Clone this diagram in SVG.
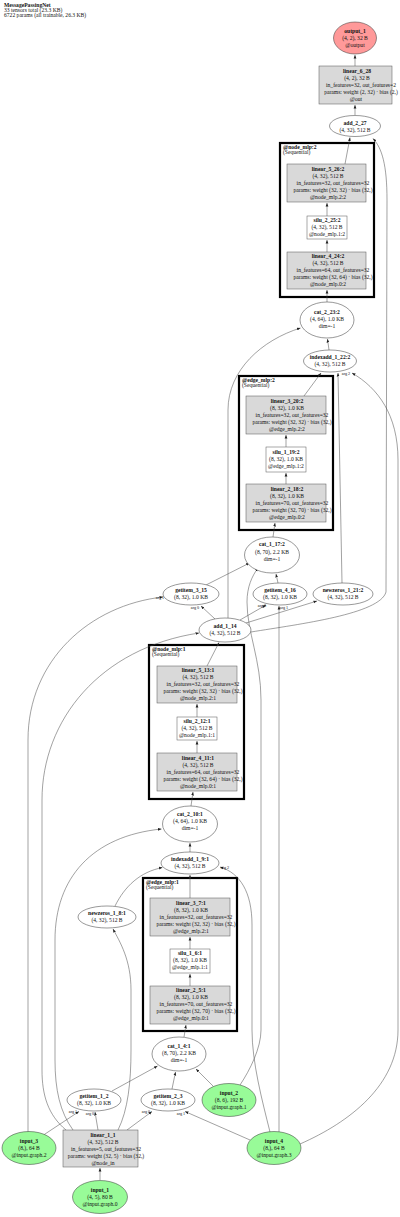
<svg xmlns="http://www.w3.org/2000/svg" width="400" height="1217" viewBox="0 0 400 1217">
<defs>
<marker id="ah" viewBox="0 0 10 10" refX="10" refY="5" markerUnits="userSpaceOnUse" markerWidth="3.5" markerHeight="3.5" orient="auto">
<path d="M0,1 L10,5 L0,9 z" fill="#222"/>
</marker>
<style>
text{font-family:"Liberation Serif","Times New Roman",serif;font-size:5.6px;fill:#111;text-anchor:middle}
.b{font-weight:bold}
.l{text-anchor:start}
.el{fill:#fff;stroke:#333;stroke-width:0.5}
.bx{fill:#d9d9d9;stroke:#555;stroke-width:0.5}
.wb{fill:#fff;stroke:#555;stroke-width:0.5}
.in{fill:#98fb98;stroke:#333;stroke-width:0.5}
.out{fill:#ff9999;stroke:#333;stroke-width:0.5}
.cl{fill:none;stroke:#000;stroke-width:2.2}
.e path{fill:none;stroke:#444;stroke-width:0.5;marker-end:url(#ah)}
.al{font-size:4.2px;text-anchor:middle}
</style>
</defs>
<rect width="400" height="1217" fill="#fff"/>
<g id="header">
<text class="l b" x="4" y="7">MessagePassingNet</text>
<text class="l" x="4" y="12">33 tensors total (23.3 KB)</text>
<text class="l" x="4" y="17">6722 params (all trainable, 26.3 KB)</text>
</g>
<g id="clusters">
<g id="cluster_node_mlp_2"><rect class="cl" x="280" y="143" width="94" height="154"/><text class="l b" x="283" y="149">@node_mlp:2</text><text class="l" x="283" y="154">(Sequential)</text></g>
<g id="cluster_edge_mlp_2"><rect class="cl" x="239" y="376" width="94" height="154"/><text class="l b" x="242" y="382">@edge_mlp:2</text><text class="l" x="242" y="387">(Sequential)</text></g>
<g id="cluster_node_mlp_1"><rect class="cl" x="149" y="645" width="95" height="154"/><text class="l b" x="152" y="651">@node_mlp:1</text><text class="l" x="152" y="656">(Sequential)</text></g>
<g id="cluster_edge_mlp_1"><rect class="cl" x="143" y="878" width="94" height="153"/><text class="l b" x="146" y="884">@edge_mlp:1</text><text class="l" x="146" y="889">(Sequential)</text></g>
</g>
<g id="connectors" class="e">
<path d="M355,66 L355,55"/>
<path d="M355,115 L355,105"/>
<path d="M345,164 L350,137.5"/>
<path d="M251,632 C300,624 380,614 386,592 L387,200 C387,165 382,148 373,138.5"/>
<path d="M327,252 L327,240"/>
<path d="M327,216 L327,203"/>
<path d="M327,302 L327,290"/>
<path d="M329,350 L327.5,339"/>
<path d="M228,618 L228,410 C228,370 262,340 300.5,328"/>
<path d="M304,396 L321,373"/>
<path d="M342,583 L338,373"/>
<path d="M300,1144 C350,1122 398,1085 398,1030 L398,460 C398,415 378,388 352,373"/>
<path d="M286,447 L286,435"/>
<path d="M286,484 L286,473"/>
<path d="M273,537 L275,523"/>
<path d="M206,585 L249.5,563"/>
<path d="M278,583 L276,574"/>
<path d="M240,1085 C250,1070 261,1048 261,1030 L261,700 C261,660 247,632 247,602 C247,587 252,576 258,568"/>
<path d="M215,619 L201,606"/>
<path d="M240,620 L266,605"/>
<path d="M279,1132 L279,606"/>
<path d="M246,623 L317,601"/>
<path d="M28,1132 L28,740 C28,660 90,605 163,597"/>
<path d="M207,666 L219,642.5"/>
<path d="M66,1130 C48,1115 42,1095 42,1070 L42,800 C42,720 100,648 199,633"/>
<path d="M197,753 L197,741"/>
<path d="M197,717 L197,704"/>
<path d="M191,806 L193,792"/>
<path d="M190,852 L190,843"/>
<path d="M73,1130 C60,1112 55,1090 55,1060 L55,940 C55,878 92,836 161.5,829"/>
<path d="M190,898 L190,875"/>
<path d="M115,906 C125,886 140,872 162.5,867.5"/>
<path d="M270,1132 C262,1100 252,1062 252,1030 L252,925 C252,892 240,873 220,867"/>
<path d="M190,949 L190,937"/>
<path d="M190,986 L190,974"/>
<path d="M184,1037 L186,1025"/>
<path d="M118,1130 C128,1110 131,1082 131,1050 L131,990 C131,960 120,942 113,929"/>
<path d="M112,1091 L157.5,1066"/>
<path d="M172,1089 L175.5,1072"/>
<path d="M213,1086 L196,1069"/>
<path d="M98,1130 L95,1112"/>
<path d="M42,1136 L79,1111.5"/>
<path d="M127,1130 L152,1111.5"/>
<path d="M250,1140 L185,1111.5"/>
<path d="M100,1180 L100,1168"/>
</g>
<g id="edge-labels">
<text class="al" x="160" y="599">arg 1</text>
<text class="al" x="195" y="609">arg 0</text>
<text class="al" x="262" y="607">arg 0</text>
<text class="al" x="284" y="609">arg 1</text>
<text class="al" x="346" y="375">arg 2</text>
<text class="al" x="225" y="869">arg 2</text>
<text class="al" x="73" y="1113">arg 1</text>
<text class="al" x="90" y="1115">arg 0</text>
<text class="al" x="146" y="1113">arg 0</text>
<text class="al" x="181" y="1115">arg 1</text>
</g>
<g id="output_1"><ellipse class="out" cx="355" cy="38" rx="21.5" ry="16"/><text class="b" x="355" y="33">output_1</text><text x="355" y="40">(4, 2), 32 B</text><text x="355" y="47">@output</text></g>
<g id="linear_6_28"><rect class="bx" x="319" y="66" width="73" height="38"/><text class="b" x="357" y="73">linear_6_28</text><text x="357" y="80">(4, 2), 32 B</text><text x="361" y="87">in_features=32, out_features=2</text><text x="361" y="94">params: weight (2, 32) · bias (2,)</text><text x="356" y="101">@out</text></g>
<g id="add_2_27"><ellipse class="el" cx="355" cy="126" rx="25.5" ry="10.5"/><text class="b" x="355" y="125">add_2_27</text><text x="355" y="132">(4, 32), 512 B</text></g>
<g id="linear_5_26_2"><rect class="bx" x="287" y="164" width="79" height="38"/><text class="b" x="328" y="171">linear_5_26:2</text><text x="328" y="178">(4, 32), 512 B</text><text x="333" y="185">in_features=32, out_features=32</text><text x="333" y="192">params: weight (32, 32) · bias (32,)</text><text x="328" y="199">@node_mlp.2:2</text></g>
<g id="silu_2_25_2"><rect class="wb" x="307" y="216" width="40" height="23"/><text class="b" x="327" y="222">silu_2_25:2</text><text x="327" y="229">(4, 32), 512 B</text><text x="327" y="236">@node_mlp.1:2</text></g>
<g id="linear_4_24_2"><rect class="bx" x="287" y="252" width="79" height="37"/><text class="b" x="328" y="258">linear_4_24:2</text><text x="328" y="265">(4, 32), 512 B</text><text x="333" y="272">in_features=64, out_features=32</text><text x="333" y="279">params: weight (32, 64) · bias (32,)</text><text x="328" y="286">@node_mlp.0:2</text></g>
<g id="cat_2_23_2"><ellipse class="el" cx="327" cy="320" rx="27" ry="18"/><text class="b" x="327" y="314">cat_2_23:2</text><text x="327" y="321">(4, 64), 1.0 KB</text><text x="327" y="328">dim=-1</text></g>
<g id="indexadd_1_22_2"><ellipse class="el" cx="330" cy="361" rx="26.5" ry="11"/><text class="b" x="330" y="359">indexadd_1_22:2</text><text x="330" y="366">(4, 32), 512 B</text></g>
<g id="linear_3_20_2"><rect class="bx" x="246" y="396" width="80" height="38"/><text class="b" x="287" y="403">linear_3_20:2</text><text x="287" y="410">(8, 32), 1.0 KB</text><text x="292" y="417">in_features=32, out_features=32</text><text x="292" y="424">params: weight (32, 32) · bias (32,)</text><text x="287" y="431">@edge_mlp.2:2</text></g>
<g id="silu_1_19_2"><rect class="wb" x="266" y="447" width="40" height="25"/><text class="b" x="286" y="454">silu_1_19:2</text><text x="286" y="461">(8, 32), 1.0 KB</text><text x="286" y="468">@edge_mlp.1:2</text></g>
<g id="linear_2_18_2"><rect class="bx" x="246" y="484" width="80" height="38"/><text class="b" x="287" y="491">linear_2_18:2</text><text x="287" y="498">(8, 32), 1.0 KB</text><text x="292" y="505">in_features=70, out_features=32</text><text x="292" y="512">params: weight (32, 70) · bias (32,)</text><text x="287" y="519">@edge_mlp.0:2</text></g>
<g id="cat_1_17_2"><ellipse class="el" cx="272" cy="555" rx="27.5" ry="18"/><text class="b" x="272" y="546">cat_1_17:2</text><text x="272" y="554">(8, 70), 2.2 KB</text><text x="272" y="561">dim=-1</text></g>
<g id="getitem_3_15"><ellipse class="el" cx="191" cy="594" rx="28" ry="11"/><text class="b" x="191" y="592">getitem_3_15</text><text x="191" y="599">(8, 32), 1.0 KB</text></g>
<g id="getitem_4_16"><ellipse class="el" cx="280" cy="594" rx="27" ry="11"/><text class="b" x="280" y="592">getitem_4_16</text><text x="280" y="599">(8, 32), 1.0 KB</text></g>
<g id="newzeros_1_21_2"><ellipse class="el" cx="343" cy="594" rx="30" ry="11"/><text class="b" x="343" y="592">newzeros_1_21:2</text><text x="343" y="599">(4, 32), 512 B</text></g>
<g id="add_1_14"><ellipse class="el" cx="225" cy="630" rx="26" ry="12"/><text class="b" x="225" y="628">add_1_14</text><text x="225" y="635">(4, 32), 512 B</text></g>
<g id="linear_5_13_1"><rect class="bx" x="157" y="666" width="80" height="37"/><text class="b" x="198" y="672">linear_5_13:1</text><text x="198" y="679">(4, 32), 512 B</text><text x="203" y="686">in_features=32, out_features=32</text><text x="203" y="693">params: weight (32, 32) · bias (32,)</text><text x="198" y="700">@node_mlp.2:1</text></g>
<g id="silu_2_12_1"><rect class="wb" x="177" y="717" width="40" height="23"/><text class="b" x="197" y="723">silu_2_12:1</text><text x="197" y="730">(4, 32), 512 B</text><text x="197" y="737">@node_mlp.1:1</text></g>
<g id="linear_4_11_1"><rect class="bx" x="157" y="753" width="80" height="38"/><text class="b" x="198" y="760">linear_4_11:1</text><text x="198" y="767">(4, 32), 512 B</text><text x="203" y="774">in_features=64, out_features=32</text><text x="203" y="781">params: weight (32, 64) · bias (32,)</text><text x="198" y="788">@node_mlp.0:1</text></g>
<g id="cat_2_10_1"><ellipse class="el" cx="190" cy="824" rx="27.5" ry="18"/><text class="b" x="190" y="816">cat_2_10:1</text><text x="190" y="823">(4, 64), 1.0 KB</text><text x="190" y="830">dim=-1</text></g>
<g id="indexadd_1_9_1"><ellipse class="el" cx="190" cy="863" rx="29" ry="11"/><text class="b" x="190" y="861">indexadd_1_9:1</text><text x="190" y="868">(4, 32), 512 B</text></g>
<g id="newzeros_1_8_1"><ellipse class="el" cx="107" cy="917" rx="29" ry="11"/><text class="b" x="107" y="915">newzeros_1_8:1</text><text x="107" y="922">(4, 32), 512 B</text></g>
<g id="linear_3_7_1"><rect class="bx" x="150" y="898" width="80" height="38"/><text class="b" x="191" y="905">linear_3_7:1</text><text x="191" y="912">(8, 32), 1.0 KB</text><text x="196" y="919">in_features=32, out_features=32</text><text x="196" y="926">params: weight (32, 32) · bias (32,)</text><text x="191" y="933">@edge_mlp.2:1</text></g>
<g id="silu_1_6_1"><rect class="wb" x="170" y="949" width="40" height="24"/><text class="b" x="190" y="955">silu_1_6:1</text><text x="190" y="962">(8, 32), 1.0 KB</text><text x="190" y="969">@edge_mlp.1:1</text></g>
<g id="linear_2_5_1"><rect class="bx" x="150" y="986" width="80" height="38"/><text class="b" x="191" y="992">linear_2_5:1</text><text x="191" y="999">(8, 32), 1.0 KB</text><text x="196" y="1006">in_features=70, out_features=32</text><text x="196" y="1013">params: weight (32, 70) · bias (32,)</text><text x="191" y="1020">@edge_mlp.0:1</text></g>
<g id="cat_1_4_1"><ellipse class="el" cx="179" cy="1054" rx="27" ry="17"/><text class="b" x="179" y="1048">cat_1_4:1</text><text x="179" y="1055">(8, 70), 2.2 KB</text><text x="179" y="1062">dim=-1</text></g>
<g id="getitem_1_2"><ellipse class="el" cx="94" cy="1100" rx="27" ry="11"/><text class="b" x="94" y="1098">getitem_1_2</text><text x="94" y="1105">(8, 32), 1.0 KB</text></g>
<g id="getitem_2_3"><ellipse class="el" cx="168" cy="1100" rx="27" ry="11"/><text class="b" x="168" y="1098">getitem_2_3</text><text x="168" y="1105">(8, 32), 1.0 KB</text></g>
<g id="input_2"><ellipse class="in" cx="229" cy="1100" rx="27" ry="16.5"/><text class="b" x="229" y="1095">input_2</text><text x="229" y="1102">(8, 6), 192 B</text><text x="229" y="1109">@input.graph.1</text></g>
<g id="input_3"><ellipse class="in" cx="29" cy="1148" rx="27" ry="16.5"/><text class="b" x="29" y="1143">input_3</text><text x="29" y="1150">(8,), 64 B</text><text x="29" y="1157">@input.graph.2</text></g>
<g id="linear_1_1"><rect class="bx" x="63" y="1130" width="75" height="37"/><text class="b" x="103" y="1137">linear_1_1</text><text x="103" y="1144">(4, 32), 512 B</text><text x="106" y="1151">in_features=5, out_features=32</text><text x="106" y="1158">params: weight (32, 5) · bias (32,)</text><text x="103" y="1165">@node_in</text></g>
<g id="input_4"><ellipse class="in" cx="274" cy="1148" rx="27" ry="16.5"/><text class="b" x="274" y="1143">input_4</text><text x="274" y="1150">(8,), 64 B</text><text x="274" y="1157">@input.graph.3</text></g>
<g id="input_1"><ellipse class="in" cx="100" cy="1197" rx="27.5" ry="16.5"/><text class="b" x="100" y="1192">input_1</text><text x="100" y="1199">(4, 5), 80 B</text><text x="100" y="1206">@input.graph.0</text></g>
</svg>
